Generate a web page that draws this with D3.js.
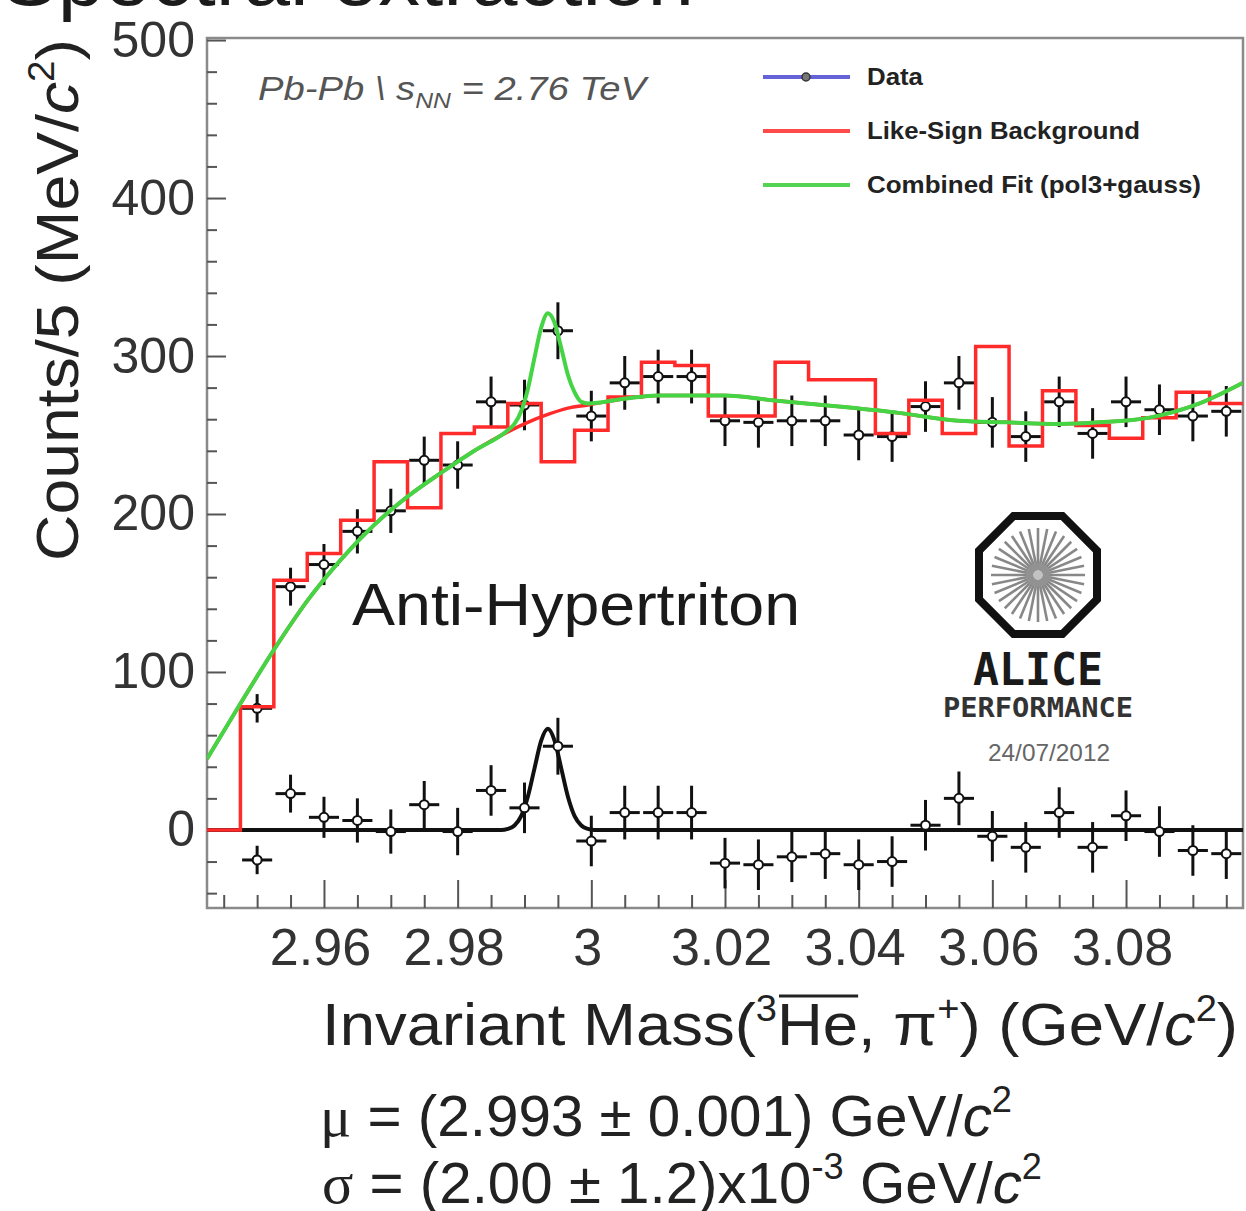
<!DOCTYPE html>
<html>
<head>
<meta charset="utf-8">
<script src="https://cdn.jsdelivr.net/npm/d3@7"></script>
<style>
  body { margin: 0; background: #fff; }
  svg { display: block; font-family: "Liberation Sans", Arial, Helvetica, sans-serif; }
</style>
</head>
<body>
<div id="chart"></div>
<script>
// bin centres, 5 MeV bins (GeV/c^2)
const binCenters = [2.950, 2.955, 2.960, 2.965, 2.970, 2.975, 2.980, 2.985, 2.990, 2.995,
                    3.000, 3.005, 3.010, 3.015, 3.020, 3.025, 3.030, 3.035, 3.040, 3.045,
                    3.050, 3.055, 3.060, 3.065, 3.070, 3.075, 3.080, 3.085, 3.090, 3.095];

// unlike-sign data counts
const dataCounts = [77, 154, 168, 189, 202, 234, 231, 271, 269, 316,
                    262, 283, 287, 287, 259, 258, 259, 259, 250, 249,
                    268, 283, 258, 249, 271, 251, 271, 266, 262, 265];
const dataErrors = [9, 12, 13, 14, 14, 15, 15, 16, 16, 18,
                    16, 17, 17, 17, 16, 16, 16, 16, 16, 16,
                    16, 17, 16, 16, 16, 16, 16, 16, 16, 16];

// data after background subtraction
const subtracted = [-19, 23, 8, 6, -1, 16, -1, 25, 14, 53,
                    -7, 11, 11, 11, -21, -22, -17, -15, -22, -20,
                    3, 20, -4, -11, 11, -11, 9, -1, -13, -15];

// like-sign background histogram
const likeSign = [78, 158, 175, 196, 233, 204, 251, 255, 270, 233,
                  253, 274, 296, 294, 262, 262, 296, 285, 285, 251,
                  272, 251, 306, 243, 278, 256, 248, 261, 277, 270];

// combined fit pol3+gauss
const fitCurve = [[2.9425, 45], [2.9475, 80], [2.9525, 114], [2.9575, 145], [2.9625, 171],
                  [2.9675, 193], [2.9725, 211], [2.9775, 226], [2.9825, 240], [2.9875, 253],
                  [2.9885, 257], [2.9895, 265], [2.9905, 279], [2.9915, 299], [2.9925, 318],
                  [2.9935, 327], [2.9945, 321], [2.9955, 305], [2.9965, 288], [2.9975, 277],
                  [2.9985, 271], [2.9995, 270], [3.005, 273], [3.010, 275], [3.015, 275],
                  [3.020, 275], [3.027, 272], [3.037, 268], [3.046, 264], [3.055, 259],
                  [3.062, 258], [3.070, 257], [3.076, 258], [3.0835, 261], [3.091, 270],
                  [3.0975, 283]];

// pol3 part only (shows in red under the peak)
const bgCurve = [[2.9425, 45], [2.9475, 80], [2.9525, 114], [2.9575, 145], [2.9625, 171],
                 [2.9675, 193], [2.9725, 211], [2.9775, 226], [2.9825, 240], [2.9875, 252],
                 [2.9905, 258], [2.9935, 263], [2.9965, 267], [2.9995, 269], [3.005, 273],
                 [3.010, 275], [3.015, 275], [3.020, 275], [3.027, 272], [3.037, 268],
                 [3.046, 264], [3.055, 259], [3.062, 258], [3.070, 257], [3.076, 258],
                 [3.0835, 261], [3.091, 270], [3.0975, 283]];

// gauss on the subtracted spectrum
const signalCurve = [[2.9425, 0], [2.9865, 0], [2.9875, 0.7], [2.9885, 2.8], [2.9895, 8.7],
                     [2.9905, 21], [2.9915, 39], [2.9925, 56.5], [2.9935, 64], [2.9945, 56.5],
                     [2.9955, 39], [2.9965, 21], [2.9975, 8.7], [2.9985, 2.8], [2.9995, 0.7],
                     [3.0005, 0], [3.0975, 0]];

const xMajor = [2.96, 2.98, 3.00, 3.02, 3.04, 3.06, 3.08];
const xLabels = ["2.96", "2.98", "3", "3.02", "3.04", "3.06", "3.08"];
const yMajor = [0, 100, 200, 300, 400, 500];

const WIDTH = 1246, HEIGHT = 1211;
const FRAME = { left: 207, right: 1243, top: 38, bottom: 908 };
const BIN = 0.005;

const svg = d3.select('#chart').append('svg')
  .attr('width', WIDTH).attr('height', HEIGHT);

const x = d3.scaleLinear().domain([2.9425, 3.0975]).range([FRAME.left, FRAME.right]);
const y = d3.scaleLinear().domain([-49.4, 501.3]).range([FRAME.bottom, FRAME.top]);

// cut off slide title at the very top
svg.append('text')
  .attr('x', 2).attr('y', 5)
  .style('font-size', '80px').attr('fill', '#1b1b1b')
  .attr('textLength', 692).attr('lengthAdjust', 'spacingAndGlyphs')
  .text('Spectral extraction');

// frame
svg.append('rect')
  .attr('x', FRAME.left).attr('y', FRAME.top)
  .attr('width', FRAME.right - FRAME.left).attr('height', FRAME.bottom - FRAME.top)
  .attr('fill', '#fff').attr('stroke', '#8a8a8a').attr('stroke-width', 2.5);

// x axis, ticks pointing in (ROOT style)
const xMinor = d3.range(0, 31).map(i => 2.945 + i * BIN).filter(v => !xMajor.some(m => Math.abs(m - v) < 1e-6));
svg.append('g')
  .attr('transform', `translate(0,${FRAME.bottom})`)
  .call(d3.axisBottom(x).tickValues(xMinor).tickSize(-13).tickFormat(''))
  .call(g => g.select('.domain').remove())
  .selectAll('line').attr('stroke', '#555').attr('stroke-width', 2);
svg.append('g')
  .attr('transform', `translate(0,${FRAME.bottom})`)
  .call(d3.axisBottom(x).tickValues(xMajor).tickSize(-28).tickPadding(20)
    .tickFormat((d, i) => xLabels[i]))
  .call(g => g.select('.domain').remove())
  .call(g => g.selectAll('line').attr('stroke', '#555').attr('stroke-width', 2))
  .call(g => g.selectAll('text').style('font-size', '52px').attr('fill', '#333').attr('dx', -4)
    .style('font-family', '"Liberation Sans", Arial, sans-serif'));

// y axis
const yMinor = d3.range(-40, 501, 20).filter(v => v % 100 !== 0);
svg.append('g')
  .attr('transform', `translate(${FRAME.left},0)`)
  .call(d3.axisLeft(y).tickValues(yMinor).tickSize(-10).tickFormat(''))
  .call(g => g.select('.domain').remove())
  .selectAll('line').attr('stroke', '#555').attr('stroke-width', 2);
svg.append('g')
  .attr('transform', `translate(${FRAME.left},0)`)
  .call(d3.axisLeft(y).tickValues(yMajor).tickSize(-19).tickPadding(12))
  .call(g => g.select('.domain').remove())
  .call(g => g.selectAll('line').attr('stroke', '#555').attr('stroke-width', 2))
  .call(g => g.selectAll('text').style('font-size', '50px').attr('fill', '#333')
    .style('font-family', '"Liberation Sans", Arial, sans-serif'));

// axis titles
const xTitle = svg.append('text')
  .attr('x', 322).attr('y', 1045)
  .style('font-size', '60px').attr('fill', '#222')
  .attr('textLength', 916).attr('lengthAdjust', 'spacingAndGlyphs');
xTitle.append('tspan').text('Invariant Mass(');
xTitle.append('tspan').attr('dy', -24).style('font-size', '36px').text('3');
xTitle.append('tspan').attr('dy', 24).text('He');
xTitle.append('tspan').text(', π');
xTitle.append('tspan').attr('dy', -24).style('font-size', '36px').text('+');
xTitle.append('tspan').attr('dy', 24).text(') (GeV/');
xTitle.append('tspan').style('font-style', 'italic').text('c');
xTitle.append('tspan').attr('dy', -24).style('font-size', '36px').text('2');
xTitle.append('tspan').attr('dy', 24).text(')');
// overline over "He" (chars 16 and 17)
{
  const n = xTitle.node();
  const s = n.getStartPositionOfChar(16), e = n.getEndPositionOfChar(17);
  svg.append('line')
    .attr('x1', s.x + 2).attr('x2', e.x)
    .attr('y1', 1045 - 49).attr('y2', 1045 - 49)
    .attr('stroke', '#222').attr('stroke-width', 3);
}

const yTitle = svg.append('text')
  .attr('transform', 'translate(78,300) rotate(-90)')
  .attr('text-anchor', 'middle')
  .style('font-size', '60px').attr('fill', '#222')
  .attr('textLength', 522).attr('lengthAdjust', 'spacingAndGlyphs');
yTitle.append('tspan').text('Counts/5 (MeV/');
yTitle.append('tspan').style('font-style', 'italic').text('c');
yTitle.append('tspan').attr('dy', -24).style('font-size', '36px').text('2');
yTitle.append('tspan').attr('dy', 24).text(')');

const plot = svg.append('g');
svg.append('clipPath').attr('id', 'frame-clip').append('rect')
  .attr('x', FRAME.left).attr('y', FRAME.top)
  .attr('width', FRAME.right - FRAME.left).attr('height', FRAME.bottom - FRAME.top);
plot.attr('clip-path', 'url(#frame-clip)');

const smooth = d3.line().x(d => x(d[0])).y(d => y(d[1])).curve(d3.curveMonotoneX);

// signal gauss (black)
plot.append('path')
  .attr('d', smooth(signalCurve))
  .attr('fill', 'none').attr('stroke', '#111').attr('stroke-width', 4);

// data points: error bars + open marker
function drawPoints(values, cls) {
  const g = plot.append('g').attr('class', cls);
  const pts = g.selectAll('g').data(binCenters.map((c, i) => ({ c, v: values[i], e: dataErrors[i] })))
    .join('g');
  pts.append('line')
    .attr('x1', d => x(d.c - BIN * 0.45)).attr('x2', d => x(d.c + BIN * 0.45))
    .attr('y1', d => y(d.v)).attr('y2', d => y(d.v))
    .attr('stroke', '#111').attr('stroke-width', 3);
  pts.append('line')
    .attr('x1', d => x(d.c)).attr('x2', d => x(d.c))
    .attr('y1', d => y(d.v - d.e)).attr('y2', d => y(d.v + d.e))
    .attr('stroke', '#111').attr('stroke-width', 3);
  pts.append('circle')
    .attr('cx', d => x(d.c)).attr('cy', d => y(d.v)).attr('r', 4.5)
    .attr('fill', '#fff').attr('stroke', '#111').attr('stroke-width', 2);
}
drawPoints(dataCounts, 'data');
drawPoints(subtracted, 'subtracted');

// like-sign histogram as steps
const histPts = [[2.9425, 0]]
  .concat(binCenters.map((c, i) => [c - BIN / 2, likeSign[i]]))
  .concat([[3.0975, likeSign[likeSign.length - 1]]]);
plot.append('path')
  .attr('d', d3.line().x(d => x(d[0])).y(d => y(d[1])).curve(d3.curveStepAfter)(histPts))
  .attr('fill', 'none').attr('stroke', '#ff2b2b').attr('stroke-width', 3.5);

plot.append('path')
  .attr('d', smooth(bgCurve))
  .attr('fill', 'none').attr('stroke', '#ff2b2b').attr('stroke-width', 3.5);
plot.append('path')
  .attr('d', smooth(fitCurve))
  .attr('fill', 'none').attr('stroke', '#44d444').attr('stroke-width', 4);

// collision label
const sys = svg.append('text')
  .attr('x', 258).attr('y', 100)
  .style('font-size', '34px').style('font-style', 'italic').attr('fill', '#555')
  .attr('textLength', 388).attr('lengthAdjust', 'spacingAndGlyphs');
sys.append('tspan').text('Pb-Pb \\ s');
sys.append('tspan').attr('dy', 8).style('font-size', '22px').text('NN');
sys.append('tspan').attr('dy', -8).text(' = 2.76 TeV');

// legend
const legendItems = [
  { label: 'Data', color: '#6464d8', marker: true, len: 56 },
  { label: 'Like-Sign Background', color: '#ff4a4a', len: 273 },
  { label: 'Combined Fit (pol3+gauss)', color: '#52d452', len: 334 }
];
const legend = svg.append('g').selectAll('g').data(legendItems).join('g')
  .attr('transform', (d, i) => `translate(0,${77 + i * 54})`);
legend.append('line')
  .attr('x1', 763).attr('x2', 850).attr('y1', 0).attr('y2', 0)
  .attr('stroke', d => d.color).attr('stroke-width', 4);
legend.filter(d => d.marker).append('circle')
  .attr('cx', 806).attr('cy', 0).attr('r', 4)
  .attr('fill', '#777').attr('stroke', '#333').attr('stroke-width', 1.5);
legend.append('text')
  .attr('x', 867).attr('y', 0).attr('dy', '0.35em')
  .style('font-size', '24px').style('font-weight', 'bold').attr('fill', '#222')
  .attr('textLength', d => d.len).attr('lengthAdjust', 'spacingAndGlyphs')
  .text(d => d.label);

svg.append('text')
  .attr('x', 352).attr('y', 625)
  .style('font-size', '60px').attr('fill', '#1a1a1a')
  .attr('textLength', 448).attr('lengthAdjust', 'spacingAndGlyphs')
  .text('Anti-Hypertriton');

// ALICE performance logo
const logo = svg.append('g').attr('transform', 'translate(1038,575)');
const octR = 59 / Math.cos(Math.PI / 8);
logo.append('path')
  .attr('d', d3.line()(d3.range(8).map(i => {
    const a = Math.PI / 8 + i * Math.PI / 4;
    return [octR * Math.cos(a), octR * Math.sin(a)];
  })) + 'Z')
  .attr('fill', '#fff').attr('stroke', '#111').attr('stroke-width', 8);
logo.selectAll('line.ray').data(d3.range(32)).join('line')
  .attr('class', 'ray')
  .attr('x1', d => 5 * Math.cos(d * Math.PI / 16)).attr('y1', d => 5 * Math.sin(d * Math.PI / 16))
  .attr('x2', d => 47 * Math.cos(d * Math.PI / 16)).attr('y2', d => 47 * Math.sin(d * Math.PI / 16))
  .attr('stroke', '#888').attr('stroke-width', 2.6);
logo.append('circle').attr('r', 12).attr('fill', '#999').attr('opacity', 0.6);

svg.append('text')
  .attr('x', 1038).attr('y', 685).attr('text-anchor', 'middle')
  .style('font-size', '44px').style('font-weight', 'bold').attr('fill', '#1a1a1a')
  .style('font-family', '"DejaVu Sans Mono", monospace')
  .attr('textLength', 130).attr('lengthAdjust', 'spacingAndGlyphs')
  .text('ALICE');
svg.append('text')
  .attr('x', 1038).attr('y', 717).attr('text-anchor', 'middle')
  .style('font-size', '26px').style('font-weight', 'bold').attr('fill', '#333')
  .style('font-family', '"DejaVu Sans Mono", monospace')
  .attr('textLength', 190).attr('lengthAdjust', 'spacingAndGlyphs')
  .text('PERFORMANCE');
svg.append('text')
  .attr('x', 1049).attr('y', 761).attr('text-anchor', 'middle')
  .style('font-size', '24px').attr('fill', '#666')
  .attr('textLength', 122).attr('lengthAdjust', 'spacingAndGlyphs')
  .text('24/07/2012');

// fit results below the plot
const mu = svg.append('text')
  .attr('x', 320).attr('y', 1136)
  .style('font-size', '58px').attr('fill', '#222')
  .attr('textLength', 692).attr('lengthAdjust', 'spacingAndGlyphs');
mu.append('tspan').style('font-family', '"Liberation Serif", serif').text('μ');
mu.append('tspan').text(' = (2.993 ± 0.001) GeV/');
mu.append('tspan').style('font-style', 'italic').text('c');
mu.append('tspan').attr('dy', -24).style('font-size', '36px').text('2');

const sigma = svg.append('text')
  .attr('x', 322).attr('y', 1203)
  .style('font-size', '58px').attr('fill', '#222')
  .attr('textLength', 720).attr('lengthAdjust', 'spacingAndGlyphs');
sigma.append('tspan').style('font-family', '"Liberation Serif", serif').text('σ');
sigma.append('tspan').text(' = (2.00 ± 1.2)x10');
sigma.append('tspan').attr('dy', -24).style('font-size', '36px').text('-3');
sigma.append('tspan').attr('dy', 24).text(' GeV/');
sigma.append('tspan').style('font-style', 'italic').text('c');
sigma.append('tspan').attr('dy', -24).style('font-size', '36px').text('2');
</script>
</body>
</html>
